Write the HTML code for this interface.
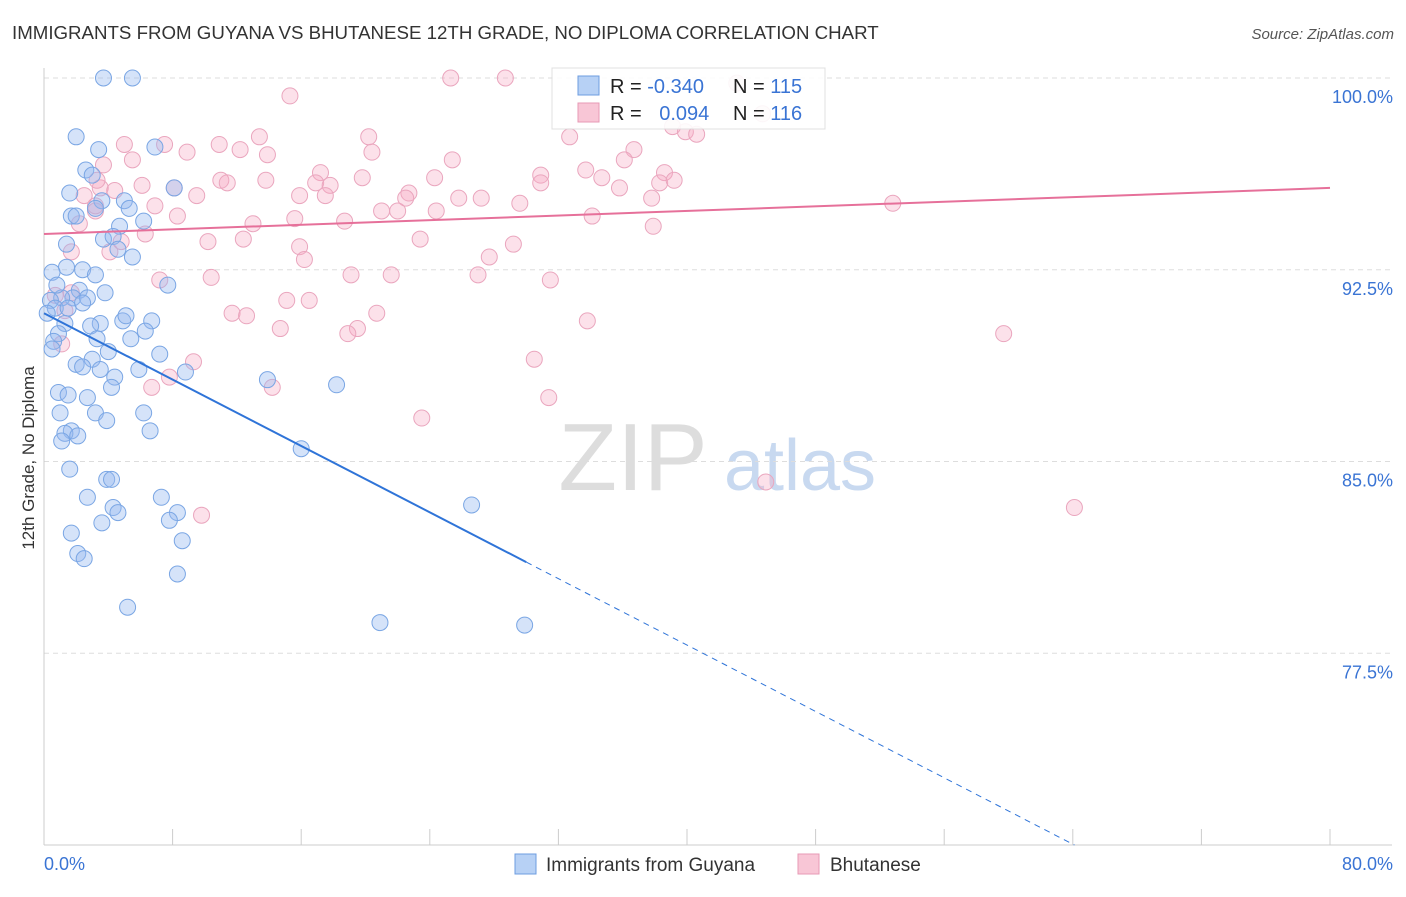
<!DOCTYPE html>
<html><head><meta charset="utf-8">
<style>
body{margin:0;background:#fff;font-family:"Liberation Sans",sans-serif;}
svg text{font-family:"Liberation Sans",sans-serif;}
</style></head>
<body>
<svg id="chart" width="1406" height="892" xmlns="http://www.w3.org/2000/svg">
<text x="12" y="39" font-size="18.7" fill="#333">IMMIGRANTS FROM GUYANA VS BHUTANESE 12TH GRADE, NO DIPLOMA CORRELATION CHART</text>
<text x="1394" y="39" font-size="15" fill="#555" text-anchor="end" font-style="italic">Source: ZipAtlas.com</text>
<text transform="translate(34,458) rotate(-90)" font-size="17" fill="#333" text-anchor="middle">12th Grade, No Diploma</text>
<g>
<text x="633" y="490" font-size="96" fill="#ddd" text-anchor="middle" font-family="Liberation Serif">ZIP</text>
<text x="800" y="490" font-size="72" fill="#c8d9f0" text-anchor="middle">atlas</text>
</g>
<g id="grid"></g><g id="axes"></g><g id="pts"></g><g id="lines"></g>
<g>
<rect x="552" y="68" width="273" height="61" fill="#fff" stroke="#ddd" opacity="0.9"/>
<rect x="578" y="76" width="21" height="19" fill="#b7d1f5" stroke="#6d9de0"/>
<rect x="578" y="103" width="21" height="19" fill="#f8c6d6" stroke="#e79ab5"/>
<text x="610" y="93" font-size="20" fill="#222">R = <tspan fill="#3a74d4">-0.340</tspan></text>
<text x="733" y="93" font-size="20" fill="#222">N = <tspan fill="#3a74d4">115</tspan></text>
<text x="610" y="120" font-size="20" fill="#222">R = <tspan fill="#3a74d4" dx="12">0.094</tspan></text>
<text x="733" y="120" font-size="20" fill="#222">N = <tspan fill="#3a74d4">116</tspan></text>
</g>
<g>
<rect x="515" y="854" width="21" height="20" fill="#b7d1f5" stroke="#6d9de0"/>
<text x="546" y="871" font-size="19" fill="#333">Immigrants from Guyana</text>
<rect x="798" y="854" width="21" height="20" fill="#f8c6d6" stroke="#e79ab5"/>
<text x="830" y="871" font-size="19" fill="#333">Bhutanese</text>
</g>
</svg>
<script>
const yTicks=[77.5,85,92.5,100];
const xTickLabels=["0.0%","80.0%"];
const blueX=[3.7,5.5,2.0,3.4,6.9,2.6,3.0,1.6,8.1,5.0,3.6,5.3,3.2,1.7,2.0,6.2,4.7,3.7,4.3,1.4,4.6,5.5,1.4,2.4,3.2,0.5,7.7,3.8,2.2,1.8,2.7,1.1,0.4,0.7,1.5,0.2,2.4,6.7,4.9,3.5,5.1,2.9,1.3,6.3,0.9,3.3,5.4,0.6,4.0,0.5,7.2,3.0,2.0,3.5,2.4,5.9,4.4,8.8,13.9,18.2,4.2,0.9,1.5,2.7,6.2,1.0,3.2,3.9,6.6,1.7,1.3,2.1,1.1,1.6,3.9,4.2,2.7,7.3,4.3,4.6,8.3,7.8,3.6,1.7,8.6,2.1,2.5,8.3,5.2,20.9,29.9,16.0,26.6,0.8];
const blueY=[100.0,100.0,97.7,97.2,97.3,96.4,96.2,95.5,95.7,95.2,95.2,94.9,94.9,94.6,94.6,94.4,94.2,93.7,93.8,93.5,93.3,93.0,92.6,92.5,92.3,92.4,91.9,91.6,91.7,91.4,91.4,91.4,91.3,91.0,91.0,90.8,91.2,90.5,90.5,90.4,90.7,90.3,90.4,90.1,90.0,89.8,89.8,89.7,89.3,89.4,89.2,89.0,88.8,88.6,88.7,88.6,88.3,88.5,88.2,88.0,87.9,87.7,87.6,87.5,86.9,86.9,86.9,86.6,86.2,86.2,86.1,86.0,85.8,84.7,84.3,84.3,83.6,83.6,83.2,83.0,83.0,82.7,82.6,82.2,81.9,81.4,81.2,80.6,79.3,78.7,78.6,85.5,83.3,91.9];
const pinkX=[25.3,28.7,43.1,15.3,44.7,39.1,39.9,40.6,32.7,13.4,20.2,5.0,7.5,10.9,12.2,8.9,13.9,20.4,36.7,5.5,3.7,25.4,36.1,33.7,17.2,38.6,30.9,34.7,38.3,39.2,24.3,13.8,11.0,11.4,16.9,17.8,19.8,6.1,30.9,35.8,3.5,2.5,4.4,8.1,9.5,15.9,17.5,22.7,22.5,27.2,25.8,29.6,37.8,52.8,6.9,8.3,3.2,21.0,22.0,24.4,34.1,15.6,18.7,37.9,13.0,2.2,6.3,4.8,10.2,12.4,23.4,15.9,29.2,4.1,16.2,27.7,1.7,7.2,10.4,19.1,21.6,27.0,31.5,15.1,16.5,0.7,1.7,1.3,11.7,12.6,20.7,33.8,14.7,19.5,18.9,59.7,1.1,9.3,30.5,7.8,6.7,14.2,31.4,23.5,44.9,64.1,9.8,3.2,3.3];
const pinkY=[100.0,100.0,99.8,99.3,98.6,98.1,97.9,97.8,97.7,97.7,97.7,97.4,97.4,97.4,97.2,97.1,97.0,97.1,97.2,96.8,96.6,96.8,96.8,96.4,96.3,96.3,96.2,96.1,95.9,96.0,96.1,96.0,96.0,95.9,95.9,95.8,96.1,95.8,95.9,95.7,95.7,95.4,95.6,95.7,95.4,95.4,95.4,95.5,95.3,95.3,95.3,95.1,95.3,95.1,95.0,94.6,94.8,94.8,94.8,94.8,94.6,94.5,94.4,94.2,94.3,94.3,93.9,93.6,93.6,93.7,93.7,93.4,93.5,93.2,92.9,93.0,93.2,92.1,92.2,92.3,92.3,92.3,92.1,91.3,91.3,91.5,91.6,90.9,90.8,90.7,90.8,90.5,90.2,90.2,90.0,90.0,89.6,88.9,89.0,88.3,87.9,87.9,87.5,86.7,84.2,83.2,82.9,95.0,96.0];
const blueTrend=[90.8,70.0]; const blueTrendX=[0,64.1]; const blueSolidEnd=30.0;
const pinkTrend=[93.9,95.7]; const pinkTrendX=[0,80];
const X0=44,X1=1330,Y0=845,Y1=78;
const sx=v=>X0+(v-0)/80*(X1-X0);
const sy=v=>Y0-(v-70)/30*(Y0-Y1);
const NS="http://www.w3.org/2000/svg";
function mk(p,t,a){const e=document.createElementNS(NS,t);for(const k in a)e.setAttribute(k,a[k]);p.appendChild(e);return e;}
const grid=document.getElementById('grid'),axes=document.getElementById('axes'),pts=document.getElementById('pts'),lines=document.getElementById('lines');
yTicks.forEach(t=>{const g=mk(grid,'line',{x1:X0,x2:1392,y1:sy(t),y2:sy(t),stroke:'#ddd','stroke-dasharray':'5,4'});


const l=mk(axes,'text',{x:1393,y:sy(t)+25,'font-size':18,fill:'#3a74d4','text-anchor':'end'});l.textContent=t.toFixed(1)+'%';

});
const ax=mk(axes,'line',{x1:X0,x2:1392,y1:Y0,y2:Y0,stroke:'#ccc'});


const ay=mk(axes,'line',{x1:X0,x2:X0,y1:68,y2:Y0,stroke:'#ccc'});


for(let i=1;i<=10;i++){const t=mk(axes,'line',{x1:sx(i*8),x2:sx(i*8),y1:Y0,y2:Y0-16,stroke:'#ccc'});

}
[[0,'start',44],[80,'end',1393]].forEach((d,i)=>{const l=mk(axes,'text',{x:d[2],y:870,'font-size':18,fill:'#3a74d4','text-anchor':d[1]});l.textContent=xTickLabels[i];

});
function dots(X,Y,fill,stroke,name){X.forEach((x,i)=>{const c=mk(pts,'circle',{cx:sx(x),cy:sy(Y[i]),r:8,fill:fill,stroke:stroke,'stroke-width':1});

});}
dots(pinkX,pinkY,'rgba(245,170,195,0.35)','#eaa6be','bhutanese-point');
dots(blueX,blueY,'rgba(150,185,240,0.4)','#7aa6e4','guyana-point');
const bslope=(blueTrend[1]-blueTrend[0])/(blueTrendX[1]-blueTrendX[0]);
const bAt=x=>blueTrend[0]+bslope*(x-blueTrendX[0]);
const b1=mk(lines,'line',{x1:sx(blueTrendX[0]),y1:sy(bAt(blueTrendX[0])),x2:sx(blueSolidEnd),y2:sy(bAt(blueSolidEnd)),stroke:'#2f74d8','stroke-width':2});


const b2=mk(lines,'line',{x1:sx(blueSolidEnd),y1:sy(bAt(blueSolidEnd)),x2:sx(blueTrendX[1]),y2:sy(blueTrend[1]),stroke:'#2f74d8','stroke-width':1,'stroke-dasharray':'6,5'});


const p1=mk(lines,'line',{x1:sx(pinkTrendX[0]),y1:sy(pinkTrend[0]),x2:sx(pinkTrendX[1]),y2:sy(pinkTrend[1]),stroke:'#e6709a','stroke-width':2});


</script>
</body></html>
